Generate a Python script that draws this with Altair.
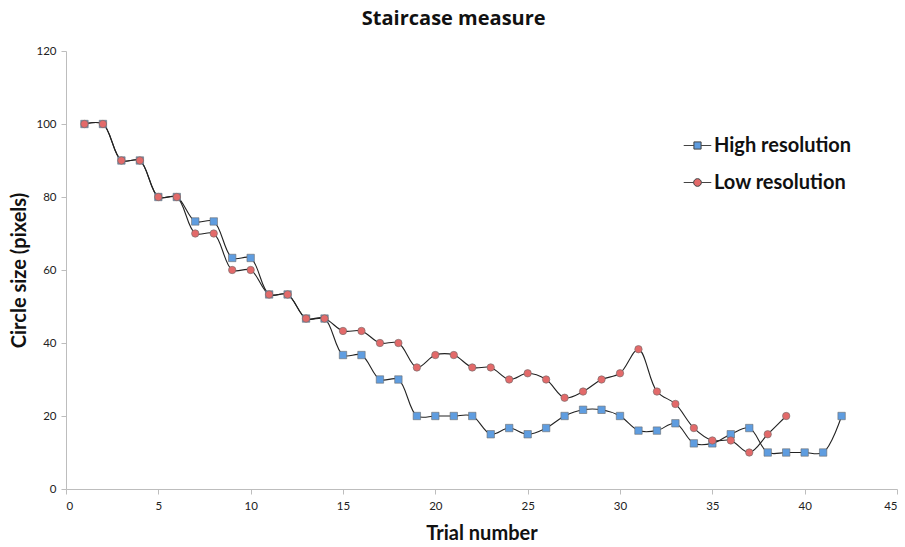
import altair as alt
import pandas as pd

trials_high = list(range(1, 43))
high = [100, 100, 90, 90, 80, 80, 73.3, 73.3, 63.3, 63.3,
        53.3, 53.3, 46.7, 46.7, 36.7, 36.7, 30, 30, 20, 20,
        20, 20, 15, 16.7, 15, 16.7, 20, 21.7, 21.7, 20,
        16, 16, 18, 12.5, 12.5, 15, 16.7, 10, 10, 10,
        10, 20]
trials_low = list(range(1, 40))
low = [100, 100, 90, 90, 80, 80, 70, 70, 60, 60,
       53.3, 53.3, 46.7, 46.7, 43.3, 43.3, 40, 40, 33.3, 36.7,
       36.7, 33.3, 33.3, 30, 31.7, 30, 25, 26.7, 30, 31.7,
       38.3, 26.7, 23.3, 16.7, 13.3, 13.3, 10, 15, 20]
series_names = ["High resolution", "Low resolution"]
fill_colors = ["#5f9de0", "#e36a6a"]

df = pd.concat([
    pd.DataFrame({"trial": trials_high, "value": high, "series": series_names[0]}),
    pd.DataFrame({"trial": trials_low, "value": low, "series": series_names[1]}),
], ignore_index=True)

FONT = "Lato"

x = alt.X("trial:Q", title="Trial number",
          scale=alt.Scale(domain=[0, 45], nice=False, zero=False),
          axis=alt.Axis(values=list(range(0, 46, 5)), grid=False, tickSize=5,
                        labelFont=FONT, labelFontSize=11.5, labelColor="#222",
                        titleFont=FONT, titleFontSize=20, titleFontWeight="bold",
                        titleColor="#111", titlePadding=12, labelPadding=6,
                        domainColor="#bdbdbd", tickColor="#bdbdbd"))
y = alt.Y("value:Q", title="Circle size (pixels)",
          scale=alt.Scale(domain=[0, 120], nice=False),
          axis=alt.Axis(values=list(range(0, 121, 20)), grid=False, tickSize=5,
                        labelFont=FONT, labelFontSize=11.5, labelColor="#222",
                        titleFont=FONT, titleFontSize=20, titleFontWeight="bold",
                        titleColor="#111", titlePadding=6, labelPadding=5,
                        domainColor="#bdbdbd", tickColor="#bdbdbd"))

base = alt.Chart(df)

lines = base.mark_line(color="#222", strokeWidth=1.1, interpolate="catmull-rom").encode(
    x=x, y=y, detail="series:N")

points = base.mark_point(filled=False, size=55, strokeWidth=0.6, opacity=1).encode(
    x=x, y=y,
    fill=alt.Fill("series:N", scale=alt.Scale(domain=series_names, range=fill_colors), legend=None),
    stroke=alt.value("#6b6b6b"),
    shape=alt.Shape("series:N", scale=alt.Scale(domain=series_names, range=["square", "circle"]), legend=None),
)

sq_path = "M-1,0H-0.26M0.26,0H1M-0.26,-0.26H0.26V0.26H-0.26Z"
ci_path = "M-1,0H-0.28M0.28,0H1M-0.28,0A0.28,0.28,0,1,0,0.28,0A0.28,0.28,0,1,0,-0.28,0Z"


def legend_entry(i, path, ly):
    return base.transform_filter("datum.trial < 0").mark_point(filled=True, opacity=1).encode(
        x=x, y=y,
        color=alt.Color("series:N",
                        scale=alt.Scale(domain=[series_names[i]], range=[fill_colors[i]]),
                        legend=alt.Legend(title=None, orient="none", legendX=617, legendY=ly,
                                          symbolType=path, symbolSize=760,
                                          symbolStrokeColor="#444", symbolStrokeWidth=1,
                                          symbolFillColor=fill_colors[i], symbolOpacity=1,
                                          labelFont=FONT, labelFontSize=20, labelFontWeight="bold",
                                          labelColor="#111", labelOffset=2)),
    )


leg_high = legend_entry(0, sq_path, 80)
leg_low = legend_entry(1, ci_path, 117)

chart = alt.layer(lines, points, leg_high, leg_low).resolve_scale(
    fill="independent", color="independent"
).properties(
    width=831, height=438,
    title=alt.TitleParams("Staircase measure", font="Open Sans", fontSize=20, fontWeight="bold",
                          color="#111", anchor="middle", frame="bounds", offset=16),
    autosize=alt.AutoSizeParams(type="none"),
    padding={"left": 66, "top": 51, "right": 8, "bottom": 58},
).configure_view(stroke=None)

chart.save("out.html", embed_options={"renderer": "svg", "actions": False})
